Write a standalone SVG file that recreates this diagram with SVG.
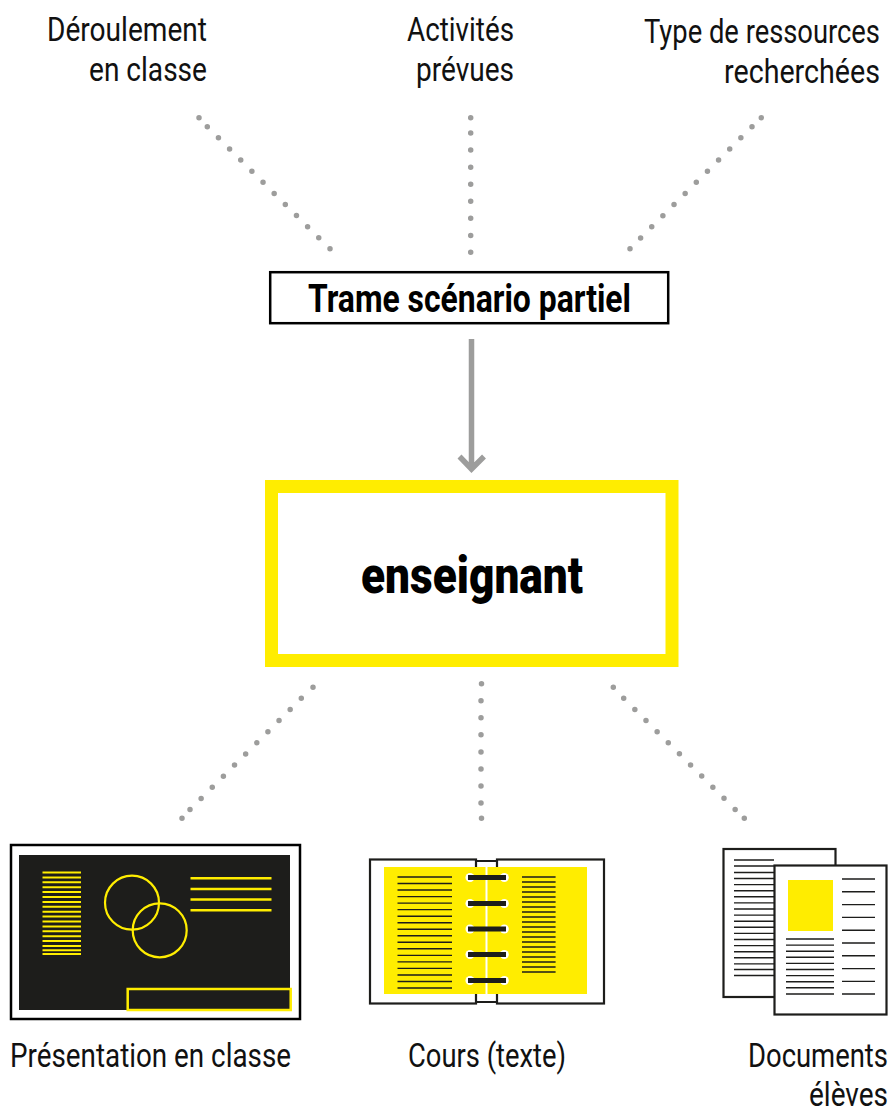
<svg xmlns="http://www.w3.org/2000/svg" width="892" height="1111" viewBox="0 0 892 1111">
<defs><style>
text{font-family:"Roboto","Liberation Sans",sans-serif;fill:#111}
.l{font-size:33px;font-weight:400}
.n{font-size:29px;font-weight:400}
.dot{fill:none;stroke:#9d9d9c;stroke-width:5.500;stroke-linecap:round}
.dd{stroke-dasharray:0 15.74}
.dv{stroke-dasharray:0 17.07}
.k{stroke:#1d1d1b;stroke-width:2;fill:none}
.t{stroke:#1d1d1b;stroke-width:1.400;fill:none}
.y{stroke:#ffed00;fill:none}
</style></defs>
<rect width="892" height="1111" fill="#fff"/>
<g id="connectors">
<path class="dot dd" d="M199 117.700h.01M207.300 126.700L318.900 238M330 248.700h.01"/>
<path class="dot dv" d="M470.700 117.700h.01M470.700 133V236M470.700 252.300h.01"/>
<path class="dot dd" d="M761.300 117.700h.01M752 126.700L640.500 238M630 248.700h.01"/>
<path class="dot dd" d="M313 687.300h.01M301.300 698.300L189.900 809.700M182 818.300h.01"/>
<path class="dot dv" d="M481.500 683.700h.01M481 700.700V804M481.500 818.300h.01"/>
<path class="dot dd" d="M613.300 687.300h.01M623.700 698.300L735.200 809.500M744.300 818.300h.01"/>
<path d="M471.500 339V470M459.500 456.500L471.500 469L484 456.500" fill="none" stroke="#9d9d9c" stroke-width="5.500"/>
</g>
<g id="label-deroulement"><text class="l" x="47" y="41" textLength="160" lengthAdjust="spacingAndGlyphs">Déroulement</text><text class="l" x="89" y="81" textLength="118" lengthAdjust="spacingAndGlyphs">en classe</text></g>
<g id="label-activites"><text class="l" x="407" y="41" textLength="107" lengthAdjust="spacingAndGlyphs">Activités</text><text class="l" x="416" y="81" textLength="98" lengthAdjust="spacingAndGlyphs">prévues</text></g>
<g id="label-ressources"><text class="n" x="644" y="37.790" transform="scale(1 1.138)" textLength="236" lengthAdjust="spacingAndGlyphs">Type de ressources</text><text class="n" x="724" y="72.940" transform="scale(1 1.138)" textLength="156" lengthAdjust="spacingAndGlyphs">recherchées</text></g>
<g id="trame"><rect x="270.200" y="272.200" width="398" height="51" fill="#fff" stroke="#000" stroke-width="2.500"/><text x="308" y="312" font-size="38" font-weight="700" style="fill:#000" textLength="323" lengthAdjust="spacingAndGlyphs">Trame scénario partiel</text></g>
<g id="enseignant"><rect x="271.500" y="486.500" width="400.500" height="174" fill="#fff" stroke="#ffed00" stroke-width="13"/><text x="361" y="593" font-size="52" font-weight="900" style="fill:#000" textLength="222" lengthAdjust="spacingAndGlyphs">enseignant</text></g>
<g id="presentation">
<rect x="11" y="845" width="289" height="174" fill="#fff" stroke="#000" stroke-width="2.500"/>
<rect x="19" y="855" width="271" height="155" fill="#1d1d1b"/>
<path class="y" stroke-width="2" d="M42.500 872.500H81M42.500 877.400H81M42.500 882.300H81M42.500 887.200H81M42.500 892.100H81M42.500 897H81M42.500 901.900H81M42.500 906.800H81M42.500 911.700H81M42.500 916.600H81M42.500 921.500H81M42.500 926.400H81M42.500 931.300H81M42.500 936.200H81M42.500 941.100H81M42.500 946H81M42.500 950.300H81M42.500 954H81"/>
<circle class="y" stroke-width="2.200" cx="132" cy="902.700" r="27"/>
<circle class="y" stroke-width="2.200" cx="159.700" cy="930.300" r="27"/>
<path class="y" stroke-width="2.400" d="M190.500 878.300H271.500M190.500 889H271.500M190.500 899.500H271.500M190.500 910.200H271.500"/>
<rect class="y" stroke-width="2.500" x="127.700" y="989" width="163" height="21"/>
<text x="10" y="1067" class="l" textLength="281" lengthAdjust="spacingAndGlyphs">Présentation en classe</text>
</g>
<g id="cours">
<rect x="476" y="861" width="21" height="141" class="k"/>
<rect x="370" y="859.500" width="106" height="144" fill="#fff" stroke="#1d1d1b" stroke-width="2.200"/>
<rect x="497" y="859.500" width="107" height="144" fill="#fff" stroke="#1d1d1b" stroke-width="2.200"/>
<rect x="384" y="867" width="203" height="127" fill="#ffed00"/>
<path d="M486.500 867V994" stroke="#fff" stroke-width="2"/>
<path class="t" d="M397.500 877H452M397.500 883.500H452M397.500 890H452M397.500 896.600H452M397.500 903.100H452M397.500 909.600H452M397.500 916.200H452M397.500 922.700H452M397.500 929.200H452M397.500 935.800H452M397.500 942.300H452M397.500 948.800H452M397.500 955.400H452M397.500 961.900H452M397.500 968.400H452M397.500 975H452M397.500 981.500H452M397.500 988H452"/>
<path class="t" d="M522 877H555.600M522 882H555.600M522 887H555.600M522 892H555.600M522 897H555.600M522 902H555.600M522 907H555.600M522 912H555.600M522 917H555.600M522 922H555.600M522 927H555.600M522 932H555.600M522 937H555.600M522 942H555.600M522 947H555.600M522 952H555.600M522 957H555.600M522 962H555.600M522 967H555.600M522 972H555.600"/>
<g fill="#fff"><circle cx="470" cy="877.500" r="4.500"/><circle cx="504.300" cy="877.500" r="4.500"/><circle cx="470" cy="903.500" r="4.500"/><circle cx="504.300" cy="903.500" r="4.500"/><circle cx="470" cy="929" r="4.500"/><circle cx="504.300" cy="929" r="4.500"/><circle cx="470" cy="954.500" r="4.500"/><circle cx="504.300" cy="954.500" r="4.500"/><circle cx="470" cy="980.500" r="4.500"/><circle cx="504.300" cy="980.500" r="4.500"/></g>
<path stroke="#1d1d1b" stroke-width="5" d="M468 877.500H506M468 903.500H506M468 929H506M468 954.500H506M468 980.500H506"/>
<text x="408" y="1067" class="l" textLength="158" lengthAdjust="spacingAndGlyphs">Cours (texte)</text>
</g>
<g id="documents">
<rect x="723.500" y="849" width="112" height="148" fill="#fff" stroke="#1d1d1b" stroke-width="2.200"/>
<path class="t" d="M734 860H774M734 866H774M734 872.500H774M734 878.500H774M734 884.600H774M734 890.700H774M734 896.800H774M734 902.900H774M734 909H774M734 915.100H774M734 921.200H774M734 927.300H774M734 933.400H774M734 939.500H774M734 945.600H774M734 951.700H774M734 957.800H774M734 963.900H774M734 969.500H774M734 975.500H774"/>
<rect x="774.500" y="865.500" width="112" height="149" fill="#fff" stroke="#1d1d1b" stroke-width="2.200"/>
<rect x="788" y="880" width="45" height="51" fill="#ffed00"/>
<path class="t" d="M786 939H834M786 945.100H834M786 951.200H834M786 957.300H834M786 963.400H834M786 969.500H834M786 975.600H834M786 981.700H834M786 987.800H834M786 994H834"/>
<path class="t" d="M842 879H875M842 891.800H875M842 904.600H875M842 917.400H875M842 930.200H875M842 943H875M842 955.800H875M842 968.600H875M842 981.400H875M842 994H875"/>
<text class="n" x="748" y="937.600" transform="scale(1 1.138)" textLength="140" lengthAdjust="spacingAndGlyphs">Documents</text><text class="n" x="809" y="971.900" transform="scale(1 1.138)" textLength="79" lengthAdjust="spacingAndGlyphs">élèves</text>
</g>
</svg>
